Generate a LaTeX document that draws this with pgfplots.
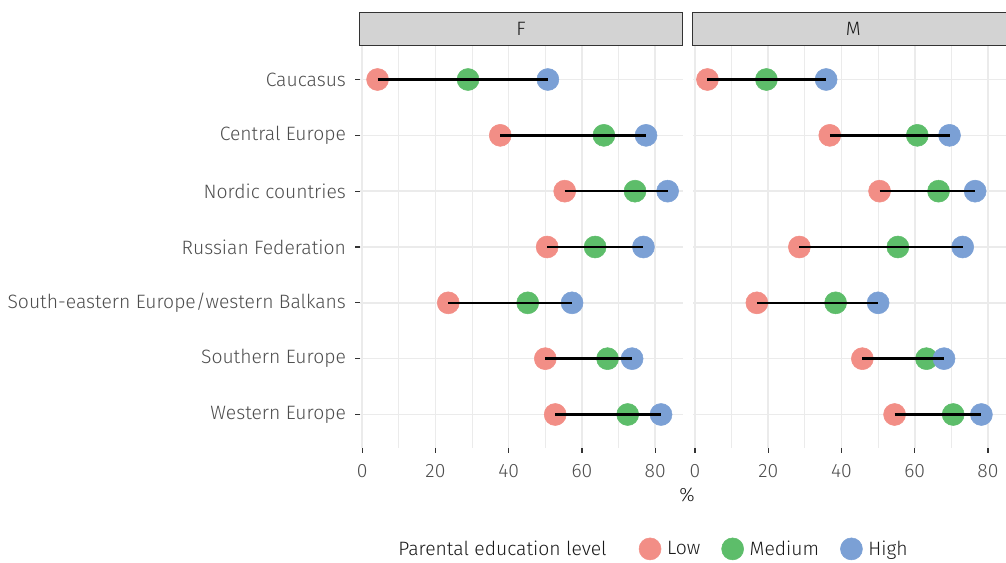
\documentclass[border=0pt]{standalone}
\usepackage{fontspec}
\setmainfont{Fira Sans Light}
\usepackage{pgfplots}
\usepackage{pgfplotstable}
\pgfplotsset{compat=1.18}
\definecolor{cLow}{HTML}{F28E86}
\definecolor{cMed}{HTML}{5DBD6A}
\definecolor{cHigh}{HTML}{7BA0D5}
\definecolor{gridc}{HTML}{EBEBEB}
\definecolor{stripc}{HTML}{D3D3D3}
\definecolor{tickc}{HTML}{333333}
\definecolor{labc}{HTML}{4D4D4D}
\newcommand\fs{\fontsize{14.5pt}{16pt}\selectfont}

\pgfplotstableread{
y L M H
1 4.2 28.9 50.7
2 37.7 66.0 77.5
3 55.3 74.5 83.4
4 50.5 63.6 76.8
5 23.5 45.2 57.3
6 50.0 67.0 73.7
7 52.7 72.5 81.6
}\dataF
\pgfplotstableread{
y L M H
1 3.4 19.5 35.8
2 36.8 60.7 69.5
3 50.4 66.5 76.5
4 28.5 55.4 73.1
5 16.9 38.4 50.0
6 45.7 63.2 68.0
7 54.5 70.5 78.2
}\dataM

\pgfplotsset{
  panel/.style={
    scale only axis, width=242.25pt, height=301.5pt, anchor=south west,
    xmin=-0.6, xmax=87.6, ymin=0.4, ymax=7.6, y dir=reverse,
    clip marker paths=true,
    axis line style={draw=none},
    xtick={0,20,40,60,80}, minor xtick={10,30,50,70},
    ytick={1,2,3,4,5,6,7},
    grid=both,
    major grid style={gridc, line width=1.2pt},
    minor grid style={gridc, line width=0.7pt},
    xtick pos=left, ytick pos=left,
    tick align=outside,
    major tick length=3.5pt,
    minor tick length=0pt,
    major tick style={tickc, line width=0.9pt},
    /pgf/number format/assume math mode=true,
    ticklabel style={font=\fs, text=labc},
    xticklabel style={yshift=-5pt},
    yticklabel style={xshift=-3.5pt},
    clip=false,
  },
  seg/.style={forget plot, draw=none, mark=none,
    error bars/.cd, x dir=plus, x explicit, error mark=none,
    error bar style={draw=black, solid, line width=1.9pt}},
  pLow/.style={only marks, mark=*, mark size=8.25pt, color=cLow, mark options={draw=cLow, fill=cLow}},
  pMed/.style={only marks, mark=*, mark size=8.25pt, color=cMed, mark options={draw=cMed, fill=cMed}},
  pHigh/.style={only marks, mark=*, mark size=8.25pt, color=cHigh, mark options={draw=cHigh, fill=cHigh}},
}

\begin{document}
\begin{tikzpicture}
\path[use as bounding box, clip] (0,0) rectangle (754.5pt,422.25pt);
\begin{axis}[panel, at={(270pt,86.25pt)},
  yticklabels={Caucasus, Central Europe, Nordic countries, Russian Federation, South-eastern Europe/western Balkans, Southern Europe, Western Europe},
  legend columns=4,
  legend style={draw=none, fill=none, at={(0.902,-0.251)}, anchor=center, font=\fs,
    text=black!90,
    /tikz/every odd column/.append style={column sep=2.5pt},
    /tikz/every even column/.append style={column sep=14pt}},
]
\addlegendimage{empty legend}
\addlegendentry{Parental education level\hspace{8.25pt}\mbox{}}
\addplot[pLow] table[x=L, y=y] {\dataF};
\addlegendentry{Low}
\addplot[pMed] table[x=M, y=y] {\dataF};
\addlegendentry{Medium}
\addplot[pHigh] table[x=H, y=y] {\dataF};
\addlegendentry{High}
\addplot[seg] table[x=L, y=y, x error expr=\thisrow{H}-\thisrow{L}] {\dataF};
\end{axis}
\begin{axis}[panel, at={(519.6pt,86.25pt)}, yticklabels={}, ytick style={draw=none}]
\addplot[pLow] table[x=L, y=y] {\dataM};
\addplot[pMed] table[x=M, y=y] {\dataM};
\addplot[pHigh] table[x=H, y=y] {\dataM};
\addplot[seg] table[x=L, y=y, x error expr=\thisrow{H}-\thisrow{L}] {\dataM};
\end{axis}
\draw[fill=stripc, draw=tickc, line width=1.1pt] (269.625pt,388.125pt) rectangle (511.875pt,412.875pt);
\draw[fill=stripc, draw=tickc, line width=1.1pt] (519.375pt,388.125pt) rectangle (765pt,412.875pt);
\node[font=\fs, text=black!90] at (390.75pt,400.5pt) {F};
\node[font=\fs, text=black!90] at (640pt,400.5pt) {M};
\node[font=\fs, text=black!90] at (515.25pt,51pt) {\%};
\end{tikzpicture}
\end{document}
